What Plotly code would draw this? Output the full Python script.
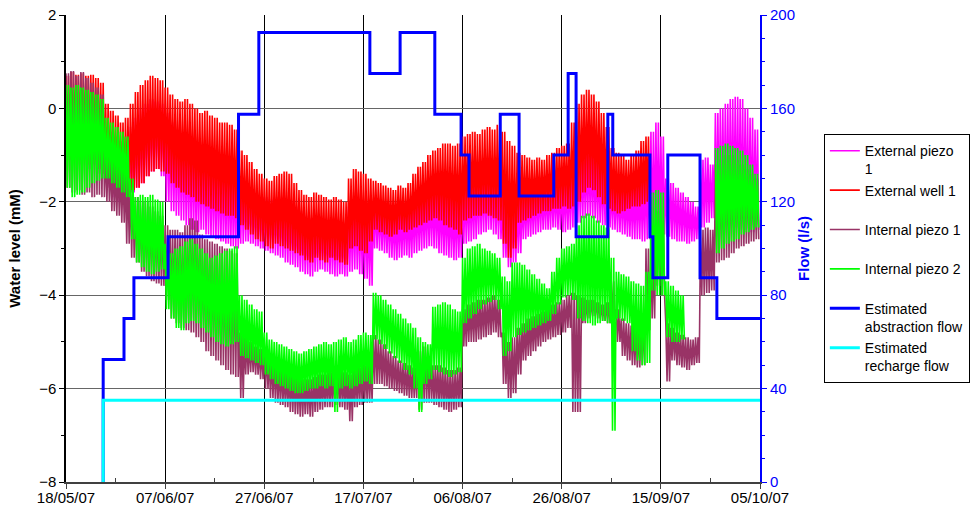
import pandas as pd
import plotly.graph_objects as go

START = pd.Timestamp("2007-05-18")
END_DAY = 140

# Daily tidal envelope (high / low water level, mM) for each logger, day 0 = 18/05/07
EXT_PIEZO1_HIGH = [
    0.30, 0.40, 0.35, 0.40, 0.30, 0.35, 0.25, 0.15, -0.40, -0.50,
    -0.60, -0.70, -0.60, -0.40, -0.20, 0.00, 0.10, 0.20, 0.15, 0.10,
    -0.10, -0.30, -0.45, -0.55, -0.60, -0.70, -0.80, -0.90, -1.00, -1.05,
    -1.10, -1.15, -1.20, -1.25, -1.30, -1.50, -1.60, -1.70, -1.80, -1.85,
    -1.90, -1.95, -1.90, -1.90, -1.95, -2.00, -2.10, -2.20, -2.30, -2.35,
    -2.30, -2.30, -2.35, -2.40, -2.35, -2.40, -2.45, -2.10, -2.00, -2.05,
    -2.10, -2.20, -2.00, -2.05, -2.10, -2.15, -2.20, -2.15, -2.10, -2.10,
    -2.00, -1.90, -1.85, -1.80, -1.75, -1.80, -1.85, -1.90, -1.95, -1.90,
    -1.70, -1.65, -1.60, -1.55, -1.50, -1.50, -1.55, -1.60, -1.90, -2.10,
    -2.00, -1.90, -1.80, -1.75, -1.75, -1.70, -1.70, -1.65, -1.60, -1.60,
    -1.55, -1.50, -1.30, -1.10, -1.00, -0.95, -1.00, -1.10, -1.30, -1.50,
    -1.60, -1.65, -1.70, -1.75, -1.70, -1.60, -1.50, -1.30, -0.50, -0.30,
    -0.60, -1.50, -1.60, -1.70, -1.80, -1.90, -2.00, -2.10, -1.10, -1.05,
    -1.20, -0.10, 0.00, 0.10, 0.20, 0.25, 0.20, 0.00, -0.20, -0.45,
]
EXT_PIEZO1_LOW = [
    -1.10, -1.00, -1.20, -1.10, -1.30, -1.20, -1.40, -1.50, -1.70, -1.90,
    -2.00, -2.00, -2.00, -1.80, -1.70, -1.60, -1.45, -1.35, -1.30, -1.45,
    -2.00, -2.20, -2.30, -2.40, -2.50, -2.60, -2.65, -2.60, -2.70, -2.75,
    -2.80, -2.85, -2.90, -2.95, -3.00, -2.90, -2.85, -2.90, -2.95, -3.00,
    -3.05, -3.10, -3.15, -3.20, -3.30, -3.35, -3.40, -3.50, -3.55, -3.60,
    -3.50, -3.45, -3.50, -3.55, -3.60, -3.55, -3.60, -3.50, -3.45, -3.55,
    -3.65, -3.80, -3.00, -3.05, -3.10, -3.20, -3.25, -3.20, -3.15, -3.20,
    -3.10, -3.05, -3.00, -2.95, -3.00, -3.10, -3.15, -3.20, -3.25, -3.20,
    -2.90, -2.85, -2.80, -2.70, -2.65, -2.60, -2.70, -2.80, -3.20, -3.40,
    -3.30, -3.10, -2.80, -2.75, -2.70, -2.65, -2.60, -2.60, -2.55, -2.60,
    -2.65, -2.60, -2.55, -2.45, -2.35, -2.30, -2.35, -2.45, -2.50, -2.55,
    -2.60, -2.65, -2.70, -2.75, -2.80, -2.80, -2.85, -2.80, -2.75, -2.70,
    -2.70, -2.75, -2.80, -2.85, -2.85, -2.90, -2.85, -2.80, -2.55, -2.45,
    -2.35, -2.40, -2.45, -2.50, -2.50, -2.55, -2.60, -2.60, -2.65, -2.60,
]

EXT_WELL1_HIGH = [
    0.70, 0.78, 0.72, 0.75, 0.70, 0.72, 0.65, 0.55, 0.10, -0.05,
    -0.15, -0.30, -0.20, 0.10, 0.35, 0.50, 0.60, 0.70, 0.65, 0.60,
    0.45, 0.30, 0.20, 0.15, 0.20, 0.10, 0.00, -0.10, -0.05, -0.15,
    -0.20, -0.30, -0.30, -0.35, -0.45, -0.90, -1.00, -1.15, -1.30, -1.40,
    -1.50, -1.55, -1.45, -1.40, -1.35, -1.40, -1.60, -1.75, -1.85, -1.90,
    -1.80, -1.85, -1.90, -1.95, -1.90, -1.95, -2.00, -1.50, -1.30, -1.35,
    -1.40, -1.50, -1.55, -1.60, -1.65, -1.70, -1.75, -1.65, -1.70, -1.60,
    -1.40, -1.25, -1.15, -1.00, -0.90, -0.85, -0.75, -0.75, -0.80, -0.75,
    -0.60, -0.55, -0.50, -0.55, -0.45, -0.40, -0.45, -0.35, -0.50, -0.70,
    -0.80, -0.95, -1.00, -1.05, -1.10, -1.05, -1.10, -1.00, -0.95, -0.85,
    -0.80, -0.75, -0.30, 0.10, 0.30, 0.40, 0.30, 0.15, -0.10, -0.40,
    -0.85, -0.95, -1.00, -1.10, -1.00, -0.90, -0.70, -0.60, None, None,
    None, None, None, None, None, None, None, None, None, None,
    None, None, None, None, None, None, None, None, None, None,
]
EXT_WELL1_LOW = [
    -1.00, -0.90, -1.10, -1.00, -1.20, -1.10, -1.30, -1.40, -1.60, -1.80,
    -1.90, -1.95, -1.90, -1.75, -1.70, -1.60, -1.45, -1.35, -1.30, -1.35,
    -1.40, -1.60, -1.70, -1.80, -1.85, -1.90, -2.00, -2.05, -2.10, -2.15,
    -2.20, -2.25, -2.30, -2.30, -2.35, -2.50, -2.60, -2.70, -2.80, -2.85,
    -2.95, -3.00, -2.90, -2.95, -3.00, -3.05, -3.10, -3.15, -3.25, -3.30,
    -3.20, -3.25, -3.30, -3.20, -3.25, -3.30, -3.35, -3.00, -2.95, -3.05,
    -3.10, -2.85, -2.60, -2.65, -2.70, -2.75, -2.70, -2.60, -2.65, -2.60,
    -2.55, -2.50, -2.45, -2.40, -2.35, -2.40, -2.50, -2.55, -2.60, -2.70,
    -2.40, -2.35, -2.30, -2.30, -2.25, -2.30, -2.35, -2.40, -2.90, -3.20,
    -3.00, -2.45, -2.40, -2.35, -2.30, -2.25, -2.20, -2.20, -2.15, -2.15,
    -2.10, -2.15, -2.10, -2.00, -1.80, -1.70, -1.75, -1.90, -2.05, -2.15,
    -2.20, -2.25, -2.20, -2.15, -2.10, -2.10, -2.05, -2.00, None, None,
    None, None, None, None, None, None, None, None, None, None,
    None, None, None, None, None, None, None, None, None, None,
]

INT_PIEZO1_HIGH = [
    0.75, 0.80, 0.70, 0.78, 0.65, 0.55, 0.45, 0.30, -0.90, -1.10,
    -1.20, -1.30, -1.40, -1.60, -1.90, -2.00, -2.00, -2.10, -2.20, -2.30,
    -2.50, -2.60, -2.60, -2.65, -2.50, -2.35, -2.40, -2.70, -2.80, -2.85,
    -2.90, -2.95, -3.00, -3.05, -3.10, -4.80, -4.90, -5.00, -5.10, -5.15,
    -5.20, -5.30, -5.40, -5.50, -5.60, -5.65, -5.70, -5.75, -5.80, -5.80,
    -5.75, -5.70, -5.70, -5.65, -5.60, -5.60, -5.65, -5.70, -5.60, -5.55,
    -5.50, -5.45, -4.85, -4.95, -5.05, -5.20, -5.30, -5.40, -5.45, -5.50,
    -5.55, -5.20, -5.10, -5.30, -5.50, -5.50, -5.55, -5.60, -5.60, -5.55,
    -4.30, -4.20, -4.15, -4.10, -4.10, -4.05, -4.00, -4.10, -4.80, -5.00,
    -4.90, -4.70, -4.60, -4.50, -4.45, -4.40, -4.35, -4.30, -4.20, -4.15,
    -4.10, -4.00, -3.95, -4.00, -4.05, -4.10, -4.10, -4.15, -4.20, -4.15,
    -3.70, -4.30, -4.50, -4.60, -4.65, -4.70, -4.60, -3.00, -3.20, -2.20,
    -2.40, -4.60, -4.70, -4.80, -4.85, -4.90, -4.95, -4.90, -2.60, -2.55,
    -2.60, -1.20, -1.10, -1.00, -1.00, -1.10, -1.20, -1.30, -1.40, -1.50,
]
INT_PIEZO1_LOW = [
    -1.70, -1.80, -1.75, -1.85, -1.80, -1.90, -1.85, -1.90, -2.00, -2.20,
    -2.30, -2.45, -2.90, -3.20, -3.30, -3.50, -3.60, -3.70, -3.75, -3.80,
    -4.10, -4.50, -4.60, -4.70, -4.75, -4.80, -4.90, -5.00, -5.20, -5.30,
    -5.40, -5.50, -5.60, -5.70, -5.75, -6.20, -5.70, -5.65, -5.70, -5.80,
    -6.00, -6.20, -6.30, -6.35, -6.40, -6.50, -6.55, -6.60, -6.55, -6.60,
    -6.50, -6.45, -6.40, -6.40, -6.35, -6.40, -6.45, -6.70, -6.40, -6.35,
    -6.30, -6.30, -5.90, -5.90, -5.95, -6.00, -6.05, -6.10, -6.15, -6.20,
    -6.20, -6.45, -6.30, -6.30, -6.35, -6.40, -6.45, -6.50, -6.45, -6.40,
    -5.10, -5.00, -5.00, -4.95, -4.90, -4.85, -4.80, -4.90, -5.90, -6.20,
    -6.10, -5.70, -5.40, -5.30, -5.20, -5.10, -5.00, -4.95, -4.90, -4.85,
    -4.80, -4.70, -6.50, -6.50, -4.60, -4.50, -4.45, -4.50, -4.55, -4.60,
    -4.50, -5.00, -5.30, -5.40, -5.50, -5.55, -5.50, -4.75, -4.50, -3.80,
    -4.00, -5.85, -5.40, -5.50, -5.55, -5.60, -5.50, -5.45, -4.00, -3.95,
    -3.90, -3.30, -3.25, -3.20, -3.10, -3.00, -2.95, -2.90, -2.85, -2.80,
]

INT_PIEZO2_HIGH = [
    0.50, 0.45, 0.50, 0.45, 0.40, 0.35, 0.30, 0.20, -0.20, -0.30,
    -0.40, -0.50, -0.60, -1.50, -1.90, -1.85, -1.90, -1.85, -1.95, -2.00,
    -2.90, -3.10, -3.00, -2.95, -2.85, -2.80, -2.90, -3.00, -3.10, -3.20,
    -3.15, -3.10, -3.05, -3.00, -2.95, -4.00, -4.10, -4.20, -4.30, -4.35,
    -4.80, -4.95, -5.00, -5.05, -5.10, -5.15, -5.20, -5.25, -5.20, -5.15,
    -5.10, -5.05, -5.00, -5.05, -5.00, -4.95, -4.90, -5.00, -4.95, -4.85,
    -4.80, -4.85, -3.95, -4.00, -4.10, -4.20, -4.30, -4.40, -4.50, -4.60,
    -4.70, -4.90, -5.00, -5.05, -4.25, -4.20, -4.15, -4.20, -4.30, -4.35,
    -3.20, -3.00, -2.95, -2.90, -3.00, -3.05, -3.10, -3.20, -3.60, -3.70,
    -3.30, -3.30, -3.35, -3.45, -3.55, -3.65, -3.75, -3.85, -3.50, -3.20,
    -3.00, -2.95, -2.90, -2.50, -2.30, -2.25, -2.30, -2.40, -2.50, -2.55,
    -3.20, -3.50, -3.55, -3.60, -3.70, -3.75, -3.80, -3.50, -1.80, -1.75,
    -1.80, -3.70, -3.80, -3.90, -4.00, None, None, None, None, None,
    None, -0.85, -0.80, -0.75, -0.80, -0.85, -0.90, -1.00, -1.20, -1.40,
]
INT_PIEZO2_LOW = [
    -1.70, -1.90, -1.85, -1.80, -1.70, -1.60, -1.55, -1.50, -1.50, -1.60,
    -1.70, -1.80, -1.90, -2.80, -3.30, -3.40, -3.50, -3.55, -3.50, -3.45,
    -4.30, -4.50, -4.70, -4.75, -4.60, -4.55, -4.60, -4.70, -4.80, -4.90,
    -5.00, -5.05, -5.10, -5.05, -5.00, -5.30, -5.35, -5.40, -5.45, -5.50,
    -5.70, -5.80, -5.90, -5.95, -6.00, -6.05, -6.10, -6.10, -6.05, -6.00,
    -6.00, -5.95, -6.00, -5.95, -6.50, -6.00, -5.95, -6.00, -5.95, -5.90,
    -5.85, -5.90, -4.95, -5.05, -5.15, -5.25, -5.35, -5.45, -5.60, -5.70,
    -6.00, -6.50, -5.90, -5.80, -5.60, -5.65, -5.70, -5.75, -5.70, -5.65,
    -4.60, -4.50, -4.40, -4.30, -4.20, -4.15, -4.10, -4.30, -5.30, -5.20,
    -4.90, -4.85, -4.80, -4.75, -4.70, -4.65, -4.60, -4.55, -4.40, -4.20,
    -4.05, -4.00, -4.10, -4.50, -4.55, -4.60, -4.65, -4.60, -4.55, -4.60,
    -6.90, -4.50, -4.55, -4.60, -5.20, -5.40, -5.50, -5.45, -3.90, -4.00,
    -4.00, -4.90, -5.00, -5.00, -4.95, None, None, None, None, None,
    None, -3.10, -3.00, -2.90, -2.85, -2.80, -2.70, -2.65, -2.60, -2.55,
]

# Pumping schedule (l/s): value holds from each day until the next change
ABSTRACTION_DAYS = [7.5, 7.5, 11.7, 13.7, 20.6, 34.8, 38.9, 61.3, 67.4, 74.4, 79.7,
                    81.3, 87.6, 91.4, 98.4, 101.3, 102.9, 109.3, 110.3, 117.8,
                    118.4, 121.4, 127.9, 131.3, 140.0]
ABSTRACTION_FLOW = [0, 52.5, 70, 87.5, 105, 157.5, 192.5, 175, 192.5, 157.5, 140,
                    122.5, 157.5, 122.5, 140, 175, 105, 157.5, 140, 105,
                    87.5, 140, 87.5, 70, 70]
RECHARGE_DAYS = [7.5, 7.5, 140.0]
RECHARGE_FLOW = [0, 35, 35]

TICK_DATES = ["18/05/07", "07/06/07", "27/06/07", "17/07/07",
              "06/08/07", "26/08/07", "15/09/07", "05/10/07"]


def day(d):
    return START + pd.Timedelta(days=d)


def tidal(high, low):
    """Expand daily high/low readings into two tidal cycles per day."""
    xs, ys = [], []
    for d, (h, l) in enumerate(zip(high, low)):
        if h is None or l is None:
            xs.append(day(d))
            ys.append(None)
            continue
        for q, v in ((0.0, h), (0.25, l), (0.5, h), (0.75, l)):
            xs.append(day(d + q))
            ys.append(v)
    return xs, ys


fig = go.Figure()

series = [
    ("External piezo<br>1", EXT_PIEZO1_HIGH, EXT_PIEZO1_LOW, "#FF00FF"),
    ("External well 1<br> ", EXT_WELL1_HIGH, EXT_WELL1_LOW, "#FF0000"),
    ("Internal piezo 1<br> ", INT_PIEZO1_HIGH, INT_PIEZO1_LOW, "#993366"),
    ("Internal piezo 2<br> ", INT_PIEZO2_HIGH, INT_PIEZO2_LOW, "#00FF00"),
]
for name, hi, lo, col in series:
    xs, ys = tidal(hi, lo)
    fig.add_trace(go.Scatter(x=xs, y=ys, mode="lines", name=name,
                             line=dict(color=col, width=1.6),
                             connectgaps=False, yaxis="y"))

fig.add_trace(go.Scatter(x=[day(d) for d in ABSTRACTION_DAYS], y=ABSTRACTION_FLOW,
                         mode="lines", name="Estimated<br>abstraction flow",
                         line=dict(color="#0000FF", width=3, shape="hv"), yaxis="y2"))
fig.add_trace(go.Scatter(x=[day(d) for d in RECHARGE_DAYS], y=RECHARGE_FLOW,
                         mode="lines", name="Estimated<br>recharge flow",
                         line=dict(color="#00FFFF", width=3, shape="hv"), yaxis="y2"))

tickvals = [day(20 * i) for i in range(len(TICK_DATES))]

fig.update_layout(
    width=971, height=516,
    margin=dict(l=66, r=211, t=15, b=34, autoexpand=False),
    paper_bgcolor="white", plot_bgcolor="white",
    font=dict(family="Liberation Sans, Arial, sans-serif", size=15, color="black"),
    legend=dict(x=1.092, y=0.745, xanchor="left", yanchor="top",
                bordercolor="black", borderwidth=1, bgcolor="white",
                font=dict(size=14), valign="top", tracegroupgap=0),
    xaxis=dict(type="date", range=[day(0), day(END_DAY)], automargin=False,
               tickmode="array", tickvals=tickvals, ticktext=TICK_DATES,
               ticklabelstandoff=-4,
               showgrid=True, gridcolor="black", gridwidth=1,
               ticks="outside", ticklen=5, tickcolor="#404040",
               showline=True, linecolor="#404040", linewidth=2, zeroline=False,
               minor=dict(tickvals=[day(10 + 20 * i) for i in range(7)],
                          ticks="inside", ticklen=4, tickcolor="#404040", showgrid=False)),
    yaxis=dict(range=[-8, 2], dtick=2, tick0=-8, automargin=False,
               title=dict(text="<b>Water level (mM)</b>", font=dict(size=15)),
               showgrid=True, gridcolor="#666666", gridwidth=1, zeroline=False,
               ticks="outside", ticklen=5, tickcolor="black",
               showline=True, linecolor="black", linewidth=1.5,
               minor=dict(dtick=1, ticks="outside", ticklen=3, tickcolor="black", showgrid=False)),
    yaxis2=dict(range=[0, 200], dtick=40, tick0=0, overlaying="y", side="right",
                automargin=False,
                title=dict(text="<b>Flow (l/s)</b>", font=dict(size=15, color="#0000FF"),
                           standoff=4),
                tickfont=dict(color="#0000FF"), showgrid=False, zeroline=False,
                ticks="outside", ticklen=5, tickcolor="#0000FF",
                showline=True, linecolor="#0000FF", linewidth=2,
                minor=dict(dtick=10, ticks="outside", ticklen=3, tickcolor="#0000FF")),
)

fig.write_html("out.html")
